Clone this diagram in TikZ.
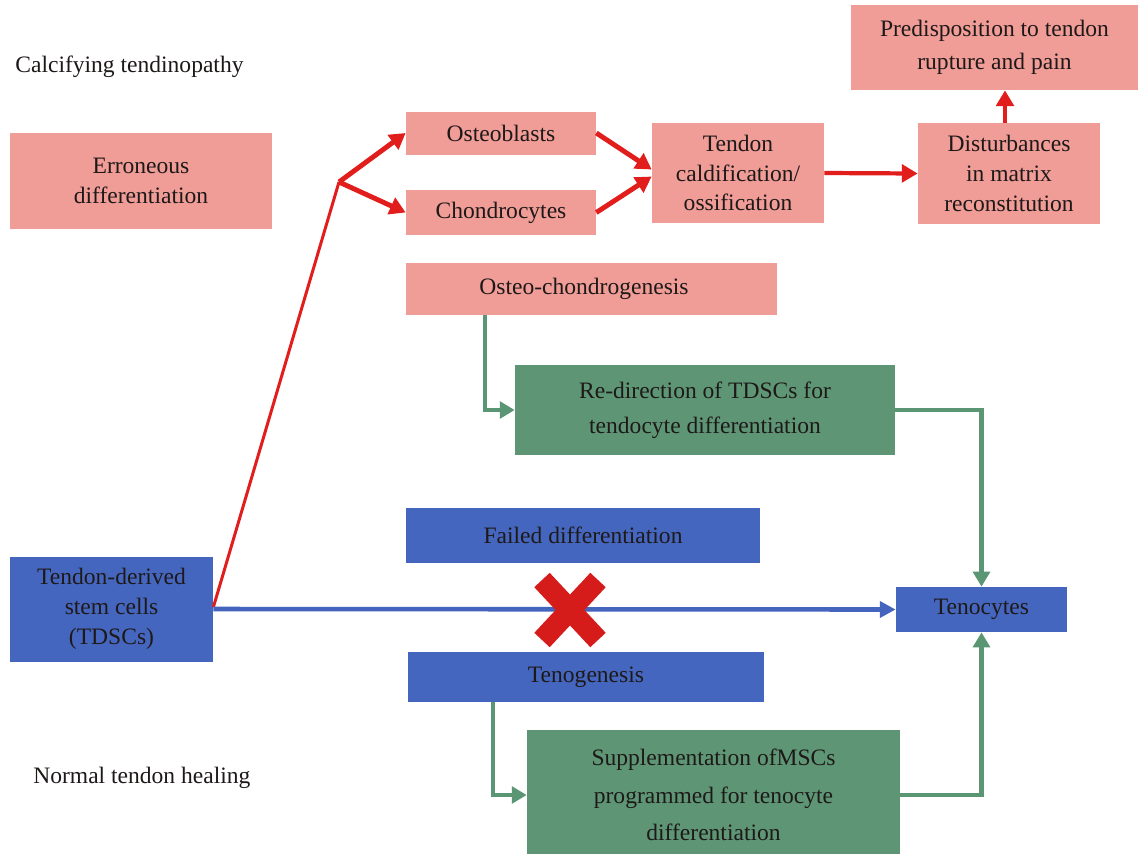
\documentclass[tikz,border=0pt]{standalone}
\usepackage{fontspec}
\setmainfont{Liberation Serif}
\usetikzlibrary{arrows.meta}
\definecolor{pinkbox}{RGB}{240,156,151}
\definecolor{greenbox}{RGB}{94,150,117}
\definecolor{bluebox}{RGB}{69,102,190}
\definecolor{redline}{RGB}{225,30,28}
\definecolor{greenline}{RGB}{90,150,115}
\definecolor{blueline}{RGB}{68,100,190}
\definecolor{txt}{RGB}{30,25,25}
\begin{document}
\begin{tikzpicture}[x=0.02cm,y=-0.02cm,
  every node/.style={font=\fontsize{13.4}{17}\selectfont, text=txt},
  boxbase/.style={inner sep=0pt, align=center, draw=none},
  pinkb/.style={boxbase, fill=pinkbox},
  greenb/.style={boxbase, fill=greenbox},
  blueb/.style={boxbase, fill=bluebox},
  redthin/.style={draw=redline, line width=1.7pt},
  redarr/.style={draw=redline, line width=2.8pt, -{Triangle[length=9pt,width=10pt]}},
  grnarr/.style={draw=greenline, line width=2.4pt, -{Triangle[length=8.5pt,width=9.5pt]}},
  bluarr/.style={draw=blueline, line width=2.6pt, -{Triangle[length=9pt,width=9pt]}},
  lab/.style={anchor=west, inner sep=0pt}
]
\useasboundingbox (0,0) rectangle (1142,853);
\clip (0,0) rectangle (1142,853);
\fill[white] (0,0) rectangle (1142,853);

% labels
\node[lab] (calcif) at (15,67) {Calcifying tendinopathy};
\node[lab] (normal) at (33,778) {Normal tendon healing};

% pink boxes
\node[pinkb, minimum width=5.24cm, minimum height=1.92cm] (err) at (141,181) {Erroneous\\differentiation};
\node[pinkb, minimum width=3.8cm, minimum height=0.86cm] (ost) at (501,133) {Osteoblasts};
\node[pinkb, minimum width=3.8cm, minimum height=0.9cm] (cho) at (501,212.5) {Chondrocytes};
\node[pinkb, minimum width=3.44cm, minimum height=2.02cm] (calc) at (738,173) {Tendon\\caldification/\\ossification};
\node[pinkb, minimum width=3.64cm, minimum height=2.02cm] (dist) at (1009,173.5) {Disturbances\\in matrix\\reconstitution};
\node[pinkb, minimum width=5.74cm, minimum height=1.7cm, font=\fontsize{13.4}{19}\selectfont] (pred) at (994.5,47.5) {Predisposition to tendon\\rupture and pain};
\node[pinkb, minimum width=7.42cm, minimum height=1.04cm] (oc) at (591.5,289) {\hspace*{-0.3cm}Osteo-chondrogenesis};

% green boxes
\node[greenb, minimum width=7.6cm, minimum height=1.8cm, font=\fontsize{13.4}{20}\selectfont] (redir) at (705,410) {Re-direction of TDSCs for\\tendocyte differentiation};
\node[greenb, minimum width=7.46cm, minimum height=2.6cm, font=\fontsize{13.4}{21.5}\selectfont] (supp) at (713.5,795) {Supplementation ofMSCs\\programmed for tenocyte\\differentiation};

% blue boxes
\node[blueb, minimum width=7.08cm, minimum height=1.1cm] (fail) at (583,535.5) {Failed differentiation};
\node[blueb, minimum width=4.06cm, minimum height=2.1cm] (tdsc) at (111.5,609) {Tendon-derived\\stem cells\\(TDSCs)};
\node[blueb, minimum width=3.42cm, minimum height=0.9cm] (teno) at (981.5,609.5) {Tenocytes};
\node[blueb, minimum width=7.12cm, minimum height=1.0cm] (tgen) at (586,677) {Tenogenesis};

% red connectors
\coordinate (br) at (339,182);
\draw[redthin] ([yshift=1pt]tdsc.east) -- (br);
\draw[redarr] (br) -- (ost.west);
\draw[redarr] (br) -- (cho.west);
\draw[redarr] (ost.east) -- ([yshift=2pt]calc.west);
\draw[redarr] (cho.east) -- ([yshift=-2pt]calc.west);
\draw[redarr, line width=2.4pt] (calc.east) -- (dist.west);
\draw[redarr, line width=2.4pt] ([xshift=-0.08cm]dist.north) -- ([xshift=-0.08cm]dist.north |- pred.south);

% green connectors
\draw[grnarr] (oc.south west) ++(79,0) |- (redir.west);
\draw[grnarr] (redir.east) -| (teno.north);
\draw[grnarr] (tgen.south west) ++(85,0) |- (supp.west);
\draw[grnarr] (supp.east) -| (teno.south);

% blue connector
\draw[bluarr] (tdsc.east) -- (teno.west);

% red cross
\coordinate (xc) at (570,610);
\draw[draw=redline!95!black, line width=12pt] ([shift={(-28,-30)}]xc) -- ([shift={(28,30)}]xc);
\draw[draw=redline!95!black, line width=12pt] ([shift={(28,-30)}]xc) -- ([shift={(-28,30)}]xc);
\end{tikzpicture}
\end{document}
